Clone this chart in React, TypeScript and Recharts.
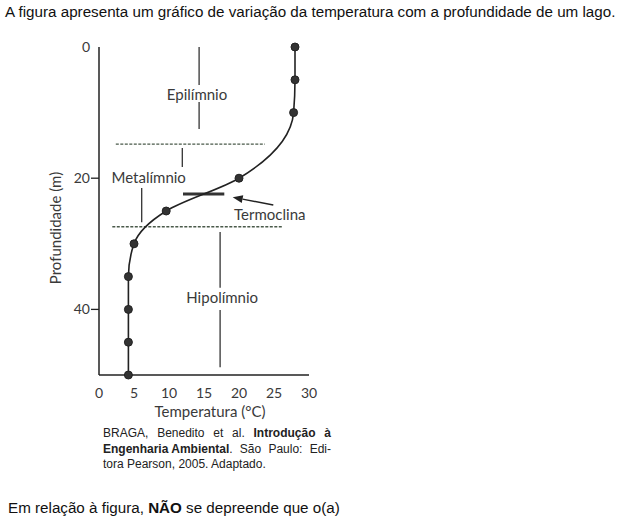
import React from 'react';
import { LineChart, Line, XAxis, YAxis, ReferenceLine, ReferenceDot } from 'recharts';

const depths = [0, 5, 10, 20, 25, 30, 35, 40, 45, 50];
const temps = [28, 28, 27.8, 20, 9.6, 5, 4.2, 4.2, 4.2, 4.2];
const xTicks = [0, 5, 10, 15, 20, 25, 30];
const yTicks = [0, 20, 40];

const layerLabels = [
  { name: 'Epilímnio', temp: 14, depth: 7.3 },
  { name: 'Metalímnio', temp: 7.1, depth: 20 },
  { name: 'Termoclina', temp: 24.4, depth: 25.6 },
  { name: 'Hipolímnio', temp: 17.6, depth: 38.3 },
];

const boundaries = [
  { depth: 14.8, from: 2.4, to: 23.7 },
  { depth: 27.4, from: 1.9, to: 26.3 },
];

const markers = [
  { temp: 14.3, from: 0, to: 5.8 },
  { temp: 14.3, from: 8.4, to: 12.5 },
  { temp: 11.9, from: 15.4, to: 18.3 },
  { temp: 6.1, from: 21.5, to: 26.7 },
  { temp: 17.3, from: 28.2, to: 36.7 },
  { temp: 17.3, from: 40.1, to: 48.8 },
];

const thermocline = { depth: 22.4, from: 12, to: 17.9 };
const arrow = { fromTemp: 24.9, fromDepth: 24.1, toTemp: 19.1, toDepth: 22.9 };

const data = depths.map((d, i) => ({ depth: d, temp: temps[i] }));

const FONT = 'Lato, "Open Sans", sans-serif';
const TXT = '#3a3a3a';

const YTick = (props: any) => {
  const { x, y, payload } = props;
  return (
    <g>
      {payload.value !== 0 && <line x1={x - 8} y1={y} x2={x} y2={y} stroke="#222" strokeWidth={1.3} />}
      <text x={x - 9} y={y} dy={5} textAnchor="end" fontSize={14} fontFamily={FONT} fill={TXT}>
        {payload.value}
      </text>
    </g>
  );
};

const XTick = (props: any) => {
  const { x, y, payload } = props;
  return (
    <text x={x} y={y + 23} textAnchor="middle" fontSize={14} fontFamily={FONT} fill={TXT}>
      {payload.value}
    </text>
  );
};

const ArrowShape = (props: any) => {
  const { x1, y1, x2, y2 } = props;
  const ang = Math.atan2(y2 - y1, x2 - x1);
  const len = 10;
  const hw = 4;
  const bx = x2 - len * Math.cos(ang);
  const by = y2 - len * Math.sin(ang);
  const px = -Math.sin(ang) * hw;
  const py = Math.cos(ang) * hw;
  return (
    <g>
      <line x1={x1} y1={y1} x2={bx} y2={by} stroke="#222" strokeWidth={1.5} />
      <polygon points={`${x2},${y2} ${bx + px},${by + py} ${bx - px},${by - py}`} fill="#222" />
    </g>
  );
};

const citeLine: React.CSSProperties = {
  height: 15.5,
  whiteSpace: 'nowrap',
};

export default function App() {
  return (
    <div style={{ position: 'absolute', left: 0, top: 0, width: 627, height: 525, background: '#fff' }}>
      <div
        style={{
          position: 'absolute',
          left: 5,
          top: 3,
          fontFamily: '"Liberation Sans", Arial, sans-serif',
          fontSize: 15.2,
          color: '#111',
          whiteSpace: 'nowrap',
          lineHeight: '18px',
        }}
      >
        A figura apresenta um gráfico de variação da temperatura com a profundidade de um lago.
      </div>
      <LineChart
        width={627}
        height={525}
        data={data}
        layout="vertical"
        margin={{ top: 47, right: 318, bottom: 120, left: 59 }}
        style={{ position: 'absolute', left: 0, top: 0 }}
      >
        <XAxis
          type="number"
          domain={[0, 30]}
          ticks={xTicks}
          height={30}
          tickLine={false}
          tickSize={0}
          tickMargin={0}
          tick={<XTick />}
          axisLine={{ stroke: '#222', strokeWidth: 1.5 }}
          label={{
            content: (p: any) => {
              const vb = p.viewBox;
              return (
                <text x={vb.x + 111} y={vb.y + 42} textAnchor="middle" fontSize={15} fontFamily={FONT} fill={TXT}>
                  Temperatura (°C)
                </text>
              );
            },
          }}
        />
        <YAxis
          type="number"
          dataKey="depth"
          domain={[0, 50]}
          ticks={yTicks}
          width={40}
          tickLine={false}
          tickSize={0}
          tickMargin={0}
          tick={<YTick />}
          axisLine={{ stroke: '#222', strokeWidth: 1.5 }}
          label={{
            content: () => {
              const cx = 57;
              const cy = 228;
              return (
                <text
                  x={cx}
                  y={cy}
                  textAnchor="middle"
                  dominantBaseline="middle"
                  transform={`rotate(-90, ${cx}, ${cy})`}
                  fontSize={15}
                  fontFamily={FONT}
                  fill={TXT}
                >
                  Profundidade (m)
                </text>
              );
            },
          }}
        />
        {boundaries.map((b, i) => (
          <ReferenceLine
            key={`b${i}`}
            segment={[
              { x: b.from, y: b.depth },
              { x: b.to, y: b.depth },
            ]}
            stroke="#4a5a4a"
            strokeWidth={1.3}
            strokeDasharray="3 1.5"
            ifOverflow="visible"
          />
        ))}
        {markers.map((m, i) => (
          <ReferenceLine
            key={`m${i}`}
            segment={[
              { x: m.temp, y: m.from },
              { x: m.temp, y: m.to },
            ]}
            stroke="#333"
            strokeWidth={1.3}
            ifOverflow="visible"
          />
        ))}
        <ReferenceLine
          segment={[
            { x: thermocline.from, y: thermocline.depth },
            { x: thermocline.to, y: thermocline.depth },
          ]}
          stroke="#333"
          strokeWidth={3}
          ifOverflow="visible"
        />
        <ReferenceLine
          segment={[
            { x: arrow.fromTemp, y: arrow.fromDepth },
            { x: arrow.toTemp, y: arrow.toDepth },
          ]}
          shape={<ArrowShape />}
          ifOverflow="visible"
        />
        {layerLabels.map((l, i) => (
          <ReferenceDot
            key={`l${i}`}
            x={l.temp}
            y={l.depth}
            r={0}
            stroke="none"
            fill="none"
            ifOverflow="visible"
            label={{
              content: (p: any) => {
                const vb = p.viewBox;
                const cx = vb.x + (vb.width || 0) / 2;
                const cy = vb.y + (vb.height || 0) / 2;
                return (
                  <text x={cx} y={cy} dy={5} textAnchor="middle" fontSize={15} fontFamily={FONT} fill={TXT}>
                    {l.name}
                  </text>
                );
              },
            }}
          />
        ))}
        <Line
          dataKey="temp"
          type="monotone"
          stroke="#222"
          strokeWidth={1.6}
          dot={{ r: 4, fill: '#333', stroke: '#222', strokeWidth: 1 }}
          isAnimationActive={false}
        />
      </LineChart>
      <div
        style={{
          position: 'absolute',
          left: 103,
          top: 426,
          width: 228,
          fontFamily: '"Liberation Sans", Arial, sans-serif',
          fontSize: 12,
          lineHeight: '15.5px',
          color: '#222',
        }}
      >
        <div style={{ ...citeLine, display: 'flex', justifyContent: 'space-between' }}>
          <span>BRAGA,</span>
          <span>Benedito</span>
          <span>et</span>
          <span>al.</span>
          <b>Introdução</b>
          <b>à</b>
        </div>
        <div style={{ ...citeLine, display: 'flex', justifyContent: 'space-between' }}>
          <span>
            <b>Engenharia Ambiental</b>.
          </span>
          <span>São</span>
          <span>Paulo:</span>
          <span>Edi-</span>
        </div>
        <div style={citeLine}>tora Pearson, 2005. Adaptado.</div>
      </div>
      <div
        style={{
          position: 'absolute',
          left: 8,
          top: 499,
          fontFamily: '"Liberation Sans", Arial, sans-serif',
          fontSize: 15.2,
          color: '#111',
          whiteSpace: 'nowrap',
          lineHeight: '18px',
        }}
      >
        Em relação à figura, <b>NÃO</b> se depreende que o(a)
      </div>
    </div>
  );
}
